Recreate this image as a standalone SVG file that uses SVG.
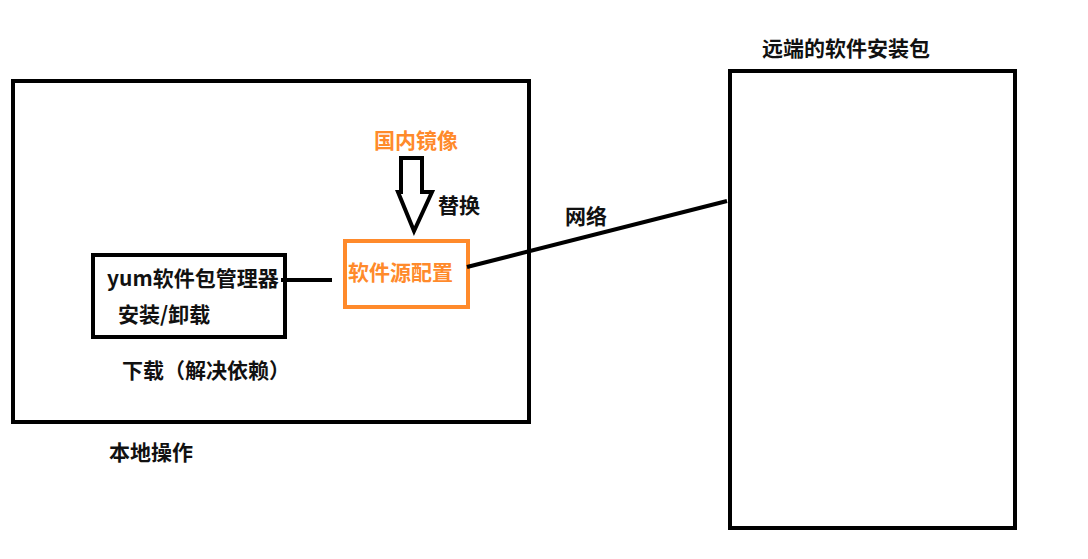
<svg xmlns="http://www.w3.org/2000/svg" width="1088" height="559" viewBox="0 0 1088 559">
<style>
.box{fill:none;stroke:#000;stroke-width:4}
.obox{fill:none;stroke:#FF8A2B;stroke-width:4}
.t{font-family:"Noto Sans CJK SC","Noto Sans",sans-serif;font-weight:bold;font-size:21px;fill:#111}
.o{fill:#FF8A2B}
.ln{stroke:#000;stroke-width:4;fill:none}
</style>
<rect width="1088" height="559" fill="#fff"/>
<g id="local">
<rect class="box" x="13" y="81" width="516" height="341"/>
<text class="t" x="109" y="460">本地操作</text>
</g>
<g id="remote">
<rect class="box" x="730" y="71" width="285" height="457"/>
<text class="t" x="762" y="56">远端的软件安装包</text>
</g>
<g id="yum">
<rect class="box" x="93" y="255" width="192" height="82"/>
<text class="t" x="107" y="286" font-family="'Noto Sans CJK SC',sans-serif">yum软件包管理器</text>
<text class="t" x="118" y="322">安装/卸载</text>
</g>
<g id="download">
<text class="t" x="122" y="378">下载（解决依赖）</text>
</g>
<g id="source">
<rect class="obox" x="345" y="241" width="123" height="66"/>
<text class="t o" x="348" y="280">软件源配置</text>
</g>
<g id="mirror">
<text class="t o" x="374" y="148">国内镜像</text>
</g>
<g id="connectors">
<line class="ln" x1="281" y1="280" x2="332" y2="280" stroke-width="3"/>
<line class="ln" x1="467" y1="267" x2="727" y2="201"/>
<polygon class="ln" points="401,158 422,158 422,192 432,192 414,231 398,192 401,192" stroke-linejoin="miter"/>
<text class="t" x="438" y="213">替换</text>
<text class="t" x="565" y="224">网络</text>
</g>
</svg>
